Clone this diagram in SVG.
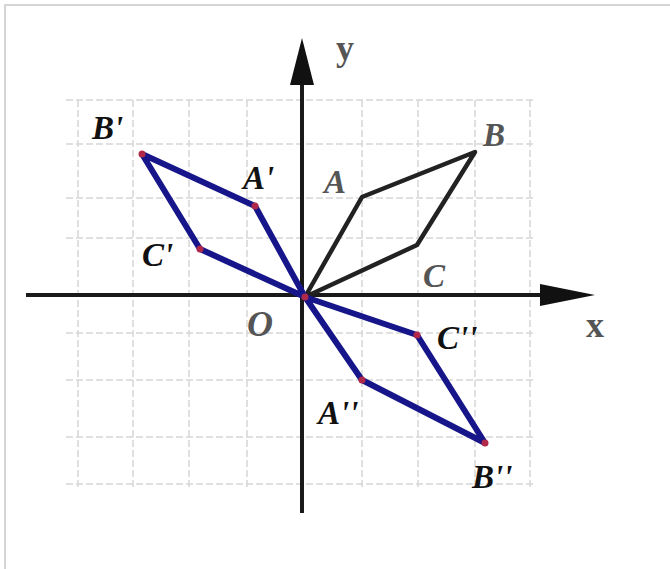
<svg xmlns="http://www.w3.org/2000/svg" width="670" height="569" viewBox="0 0 670 569">
<style>
.grid{stroke:#d6d6d6;stroke-width:1.5;stroke-dasharray:7 3;fill:none}
.axis{stroke:#1a1a1a;stroke-width:4;fill:none}
.blue{stroke:#16168a;stroke-width:6;fill:none;stroke-linejoin:round;stroke-linecap:round}
.orig{stroke:#222;stroke-width:4.5;fill:none;stroke-linejoin:round;stroke-linecap:round}
.pt{fill:#b0284a}
.lbl{font-family:"Liberation Serif","Times New Roman",serif;font-weight:bold;font-style:italic;font-size:33px;fill:#111}
.glbl{font-family:"Liberation Serif","Times New Roman",serif;font-weight:bold;font-style:italic;font-size:33px;fill:#555}
.ax{font-family:"Liberation Serif","Times New Roman",serif;font-weight:bold;font-size:36px;fill:#555}
</style>
<rect x="5" y="5" width="700" height="600" fill="#fff" stroke="#c8c8c8" stroke-width="1.5"/>
<g id="grid">
<path class="grid" d="M78 100V488M133 100V488M189 100V488M247 100V488M362 100V488M418 100V488M475 100V488M530 100V488"/>
<path class="grid" d="M66 100H535M66 144H535M66 198H535M66 238H535M66 333H535M66 380H535M66 437H535M66 484H535"/>
</g>
<g id="axes">
<line class="axis" x1="26" y1="295" x2="545" y2="295"/>
<polygon points="540,284 595,295 540,306" fill="#111"/>
<line class="axis" x1="302" y1="80" x2="302" y2="513"/>
<polygon points="290,85 302,38 314,85" fill="#111"/>
</g>
<g id="connectors">
<polygon class="orig" points="305,297 362,197 475,152 417,245"/>
<polygon class="blue" points="305,297 255,206 142,154 200,249"/>
<polygon class="blue" points="305,297 417,335 485,443 362,380"/>
</g>
<g id="O"><circle class="pt" cx="305" cy="297" r="3.5"/><text class="glbl" x="247" y="336" style="font-size:36px">O</text></g>
<g id="A"><text class="glbl" x="324" y="193">A</text></g>
<g id="B"><text class="glbl" x="483" y="146">B</text></g>
<g id="C"><text class="glbl" x="423" y="287">C</text></g>
<g id="A1"><circle class="pt" cx="255" cy="206" r="3.5"/><text class="lbl" x="243" y="189">A'</text></g>
<g id="B1"><circle class="pt" cx="142" cy="154" r="3.5"/><text class="lbl" x="92" y="139">B'</text></g>
<g id="C1"><circle class="pt" cx="200" cy="249" r="3.5"/><text class="lbl" x="142" y="266">C'</text></g>
<g id="A2"><circle class="pt" cx="362" cy="380" r="3.5"/><text class="lbl" x="318" y="424">A''</text></g>
<g id="B2"><circle class="pt" cx="485" cy="443" r="3.5"/><text class="lbl" x="472" y="488">B''</text></g>
<g id="C2"><circle class="pt" cx="417" cy="335" r="3.5"/><text class="lbl" x="437" y="349">C''</text></g>
<g id="xlabel"><text class="ax" x="586" y="337">x</text></g>
<g id="ylabel"><text class="ax" x="336" y="60">y</text></g>
</svg>
